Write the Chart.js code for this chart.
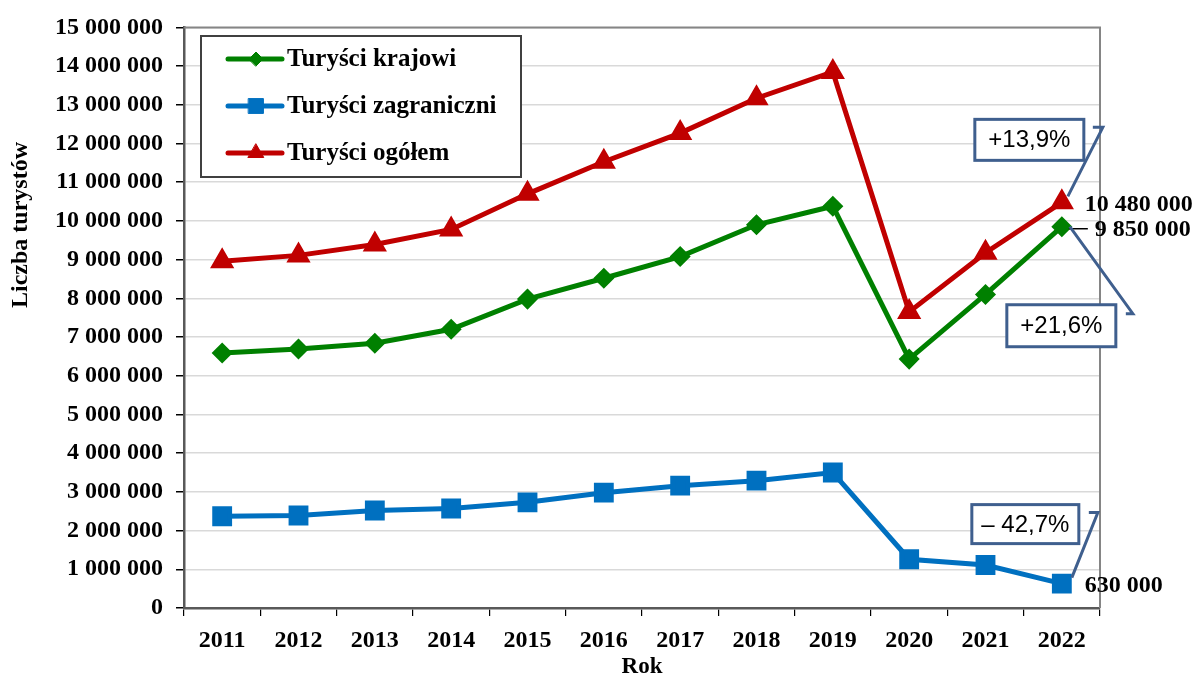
<!DOCTYPE html>
<html>
<head>
<meta charset="utf-8">
<script src="https://cdn.jsdelivr.net/npm/chart.js@4.4.1/dist/chart.umd.min.js"></script>
<style>
  html, body { margin: 0; padding: 0; background: #fff; }
  canvas { display: block; }
</style>
</head>
<body>
<canvas id="touristsChart" width="1198" height="681"></canvas>
<script>
// Liczba turystów 2011-2022
const years = ['2011', '2012', '2013', '2014', '2015', '2016', '2017', '2018', '2019', '2020', '2021', '2022'];
const domestic = [6590000, 6690000, 6840000, 7200000, 7980000, 8520000, 9080000, 9900000, 10380000, 6430000, 8100000, 9850000];
const foreign = [2370000, 2390000, 2520000, 2570000, 2730000, 2980000, 3160000, 3290000, 3500000, 1260000, 1110000, 630000];
const total = [8960000, 9110000, 9390000, 9780000, 10700000, 11530000, 12270000, 13170000, 13850000, 7650000, 9180000, 10480000];
const seriesNames = ['Turyści krajowi', 'Turyści zagraniczni', 'Turyści ogółem'];
const lastLabels = ['9 850 000', '630 000', '10 480 000'];
const changeLabels = ['+21,6%', '\u2013 42,7%', '+13,9%'];

const SERIF = '"Liberation Serif", "Times New Roman", serif';
const SANS = '"Liberation Sans", Arial, sans-serif';
const CALLOUT = '#3f5f8e';

const fmt = v => String(v).replace(/\B(?=(\d{3})+(?!\d))/g, ' ');

// legend, titles, plot border and the callouts for 2022
const extras = {
    id: 'extras',
    afterDraw(chart) {
        const { ctx, chartArea: a, scales } = chart;
        ctx.save();

        // top and right border of plot area
        ctx.strokeStyle = '#858585';
        ctx.lineWidth = 2;
        ctx.beginPath();
        ctx.moveTo(a.left, a.top);
        ctx.lineTo(a.right, a.top);
        ctx.lineTo(a.right, a.bottom);
        ctx.stroke();

        // y axis title
        ctx.fillStyle = '#000';
        ctx.font = 'bold 24px ' + SERIF;
        ctx.textAlign = 'center';
        ctx.textBaseline = 'middle';
        ctx.save();
        ctx.translate(21, 225);
        ctx.rotate(-Math.PI / 2);
        ctx.fillText('Liczba turystów', 0, 0);
        ctx.restore();

        // legend box
        const lx = 201, ly = 36, lw = 320, lh = 141;
        ctx.fillStyle = '#fff';
        ctx.fillRect(lx, ly, lw, lh);
        ctx.strokeStyle = '#404040';
        ctx.lineWidth = 2;
        ctx.strokeRect(lx, ly, lw, lh);
        const rows = [59, 106, 153];
        chart.data.datasets.forEach((ds, i) => {
            const y = rows[i];
            ctx.strokeStyle = ds.borderColor;
            ctx.fillStyle = ds.backgroundColor;
            ctx.lineWidth = 5;
            ctx.lineCap = 'round';
            ctx.beginPath();
            ctx.moveTo(228, y);
            ctx.lineTo(282, y);
            ctx.stroke();
            ctx.lineWidth = 1;
            Chart.helpers.drawPoint(ctx, {
                pointStyle: ds.pointStyle,
                radius: ds.pointRadius,
                borderWidth: 1
            }, 256, y);
            ctx.fillStyle = '#000';
            ctx.font = 'bold 25px ' + SERIF;
            ctx.textAlign = 'left';
            ctx.textBaseline = 'middle';
            ctx.fillText(seriesNames[i], 287, y + 1);
        });

        // values for 2022
        const x = scales.x.getPixelForValue(years.length - 1);
        const yDom = scales.y.getPixelForValue(domestic[domestic.length - 1]);
        const yFor = scales.y.getPixelForValue(foreign[foreign.length - 1]);
        const yTot = scales.y.getPixelForValue(total[total.length - 1]);

        ctx.fillStyle = '#000';
        ctx.font = 'bold 24px ' + SERIF;
        ctx.textAlign = 'left';
        ctx.textBaseline = 'middle';
        ctx.fillText(lastLabels[2], x + 23, yTot + 2);
        ctx.fillText(lastLabels[0], x + 33, yDom + 3);
        ctx.fillText(lastLabels[1], x + 23, yFor + 2);
        ctx.strokeStyle = '#000';
        ctx.lineWidth = 1.5;
        ctx.lineCap = 'butt';
        ctx.beginPath();
        ctx.moveTo(x + 7, yDom + 2);
        ctx.lineTo(x + 26, yDom + 2);
        ctx.stroke();

        // callout boxes with leader lines
        const callouts = [
            { text: changeLabels[0], box: [x - 55, yDom + 78, 109, 42], line: [[x + 8, yDom], [x + 71, yDom + 87], [x + 64, yDom + 87]] },
            { text: changeLabels[1], box: [x - 90, yFor - 79, 107, 39], line: [[x + 10, yFor - 6], [x + 36, yFor - 71], [x + 27, yFor - 71]] },
            { text: changeLabels[2], box: [x - 87, yTot - 83, 109, 41], line: [[x + 6, yTot - 6], [x + 41, yTot - 75], [x + 31, yTot - 75]] }
        ];
        callouts.forEach(c => {
            ctx.strokeStyle = CALLOUT;
            ctx.lineWidth = 3;
            ctx.lineJoin = 'miter';
            ctx.beginPath();
            c.line.forEach((p, k) => k ? ctx.lineTo(p[0], p[1]) : ctx.moveTo(p[0], p[1]));
            ctx.stroke();
            const [bx, by, bw, bh] = c.box;
            ctx.fillStyle = '#fff';
            ctx.fillRect(bx, by, bw, bh);
            ctx.strokeRect(bx, by, bw, bh);
            ctx.fillStyle = '#000';
            ctx.font = '24px ' + SANS;
            ctx.textAlign = 'center';
            ctx.textBaseline = 'middle';
            ctx.fillText(c.text, bx + bw / 2, by + bh / 2 + 1);
        });

        ctx.restore();
    }
};

new Chart(document.getElementById('touristsChart'), {
    type: 'line',
    data: {
        labels: years,
        datasets: [
            {
                label: seriesNames[0],
                data: domestic,
                borderColor: '#008000',
                backgroundColor: '#008000',
                borderWidth: 5,
                pointStyle: 'rectRot',
                pointRadius: 7,
                pointHoverRadius: 7
            },
            {
                label: seriesNames[1],
                data: foreign,
                borderColor: '#0070c0',
                backgroundColor: '#0070c0',
                borderWidth: 5,
                pointStyle: 'rect',
                pointRadius: 10.5,
                pointHoverRadius: 10.5
            },
            {
                label: seriesNames[2],
                data: total,
                borderColor: '#c00000',
                backgroundColor: '#c00000',
                borderWidth: 5,
                pointStyle: 'triangle',
                pointRadius: 9,
                pointHoverRadius: 9
            }
        ]
    },
    options: {
        responsive: false,
        animation: false,
        layout: { padding: { top: 25, right: 98, left: 0, bottom: 0 } },
        plugins: {
            legend: { display: false },
            tooltip: { enabled: false }
        },
        scales: {
            x: {
                offset: true,
                afterFit(scale) { scale.height = 73; },
                grid: {
                    offset: true,
                    drawOnChartArea: false,
                    tickLength: 8,
                    tickColor: '#000',
                    lineWidth: 1.2
                },
                border: { color: '#595959', width: 2.5 },
                ticks: {
                    color: '#000',
                    padding: 10,
                    maxRotation: 0,
                    font: { family: SERIF, size: 24, weight: 'bold' }
                },
                title: {
                    display: true,
                    text: 'Rok',
                    color: '#000',
                    padding: { top: 0, bottom: 0 },
                    font: { family: SERIF, size: 23, weight: 'bold' }
                }
            },
            y: {
                min: 0,
                max: 15000000,
                afterFit(scale) { scale.width = 184; },
                grid: {
                    color: '#d9d9d9',
                    lineWidth: 1.5,
                    tickLength: 8,
                    tickColor: '#000'
                },
                border: { color: '#595959', width: 2.5 },
                ticks: {
                    stepSize: 1000000,
                    color: '#000',
                    padding: 13,
                    font: { family: SERIF, size: 24, weight: 'bold' },
                    callback: v => fmt(v)
                }
            }
        }
    },
    plugins: [extras]
});
</script>
</body>
</html>
